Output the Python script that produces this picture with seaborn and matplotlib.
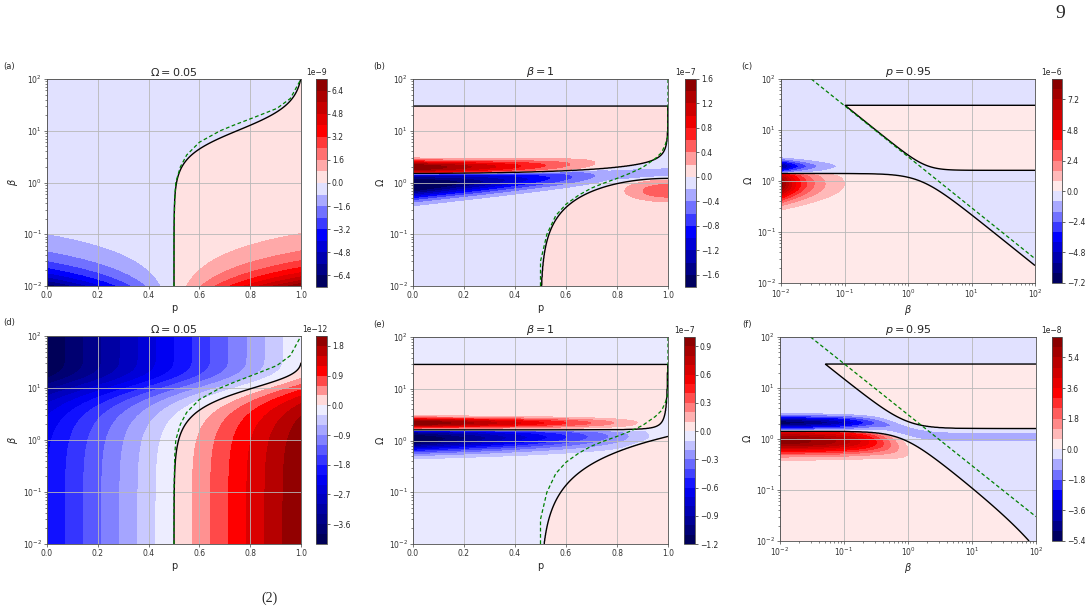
import numpy as np
import matplotlib
matplotlib.use("Agg")
import matplotlib.pyplot as plt
from matplotlib.colors import TwoSlopeNorm
import seaborn as sns

# ---------------------------------------------------------------
# values
# ---------------------------------------------------------------
TITLES = [r"$\Omega = 0.05$", r"$\beta = 1$", r"$p = 0.95$"]
TAGS = ["(a)", "(b)", "(c)", "(d)", "(e)", "(f)"]

# green dashed guide curves
GREEN_PB_P = [0.5, 0.5, 0.503, 0.507, 0.525, 0.55, 0.6, 0.682, 0.735, 0.814, 0.905, 0.958, 0.997, 1.0]
GREEN_PB_BETA = [0.01, 0.1, 0.5, 1.0, 2.0, 3.4, 6.0, 10.0, 12.8, 18.0, 27.0, 42.0, 94.0, 100.0]
GREEN_PO_P = [0.5, 0.5, 0.525, 0.56, 0.6, 0.65, 0.7, 0.75, 0.8, 0.85, 0.9, 0.95, 0.975, 0.99, 1.0, 1.0]
GREEN_PO_OMEGA = [0.01, 0.03, 0.1, 0.23, 0.38, 0.57, 0.78, 0.98, 1.2, 1.5, 1.95, 2.9, 3.8, 5.5, 8.0, 100.0]
GREEN_BO_BETA = [0.03, 100.0]
GREEN_BO_OMEGA = [100.0, 0.03]

# colour levels: lowest, highest, step, colorbar exponent
LEV_A = (-7.2, 7.2, 0.8, 1e-9)
LEV_B = (-1.8, 1.6, 0.2, 1e-7)
LEV_C = (-7.2, 8.8, 0.8, 1e-6)
LEV_D = (-4.2, 2.1, 0.3, 1e-12)
LEV_E = (-1.2, 1.0, 0.1, 1e-7)
LEV_F = (-5.4, 6.6, 0.6, 1e-8)

TICKS_A = [-6.4, -4.8, -3.2, -1.6, 0.0, 1.6, 3.2, 4.8, 6.4]
TICKS_B = [-1.6, -1.2, -0.8, -0.4, 0.0, 0.4, 0.8, 1.2, 1.6]
TICKS_C = [-7.2, -4.8, -2.4, 0.0, 2.4, 4.8, 7.2]
TICKS_D = [-3.6, -2.7, -1.8, -0.9, 0.0, 0.9, 1.8]
TICKS_E = [-1.2, -0.9, -0.6, -0.3, 0.0, 0.3, 0.6, 0.9]
TICKS_F = [-5.4, -3.6, -1.8, 0.0, 1.8, 3.6, 5.4]


# ---------------------------------------------------------------
# model fields (in colorbar units)
# ---------------------------------------------------------------
def sign_field(lw, w_low, w_up, w_top):
    # >0 inside the two "positive" pockets, zero on the black curves
    h = np.maximum(np.minimum(w_top - lw, lw - w_up), w_low - lw)
    return h, np.tanh(h / 0.02)


def field_a(P, LB):
    beta = 10 ** LB
    hill = beta ** 1.67 / (beta ** 1.67 + 10.3 ** 1.67)
    p0 = 0.5 + 0.51 * hill
    return 7.0 * (2 * P - 1) * np.exp(-(LB + 2) / 0.44) + 0.1 * np.tanh((P - p0) / 0.004)


def field_d(P, LB):
    beta = 10 ** LB
    p0 = 0.5 + 0.502 * np.tanh(0.725 * (beta / 10) ** 1.3)
    return 4.2 * (P - p0)


def field_b(P, LW):
    wU = np.log10(1.5 + 0.33 * P ** 2 / np.sqrt(np.clip(1 - P, 1e-9, None)))
    s = np.clip((P - 0.5) / 0.5, 0, 1)
    wL = np.log10(1.2 * np.sin(np.pi * s / 2) ** 1.1 + 1e-12)
    h, S = sign_field(LW, wL, wU, np.log10(30))
    red = (1.65 * np.clip(1 - P / 0.8, 0, None) * np.exp(-((LW - wU - 0.12) / 0.12) ** 2)
           + 0.55 * np.exp(-((P - 1) / 0.16) ** 2 - ((LW + 0.16) / 0.2) ** 2))
    blue = ((1.75 * np.clip(1 - P / 0.77, 0, None) + 0.26)
            * np.exp(-((LW + 0.05 - 0.25 * P) / (0.27 - 0.13 * P)) ** 2))
    return S * (0.02 + np.where(h > 0, red, blue))


def field_e(P, LW):
    wU = np.log10(1.6 + 0.009 * P ** 6 / np.clip(1 - P, 1e-9, None) ** 1.2)
    s = np.clip((P - 0.5) / 0.5, 0, 1)
    wL = np.log10(1.2 * s ** 1.35 + 1e-12)
    h, S = sign_field(LW, wL, wU, np.log10(29.5))
    red = 1.05 * np.clip(1 - P / 0.961, 0, None) * np.exp(-((LW - 0.34) / 0.09) ** 2)
    blue = 1.25 * np.clip(1 - P, 0, None) * np.exp(-((LW - 0.03 - 0.06 * P) / 0.25) ** 2)
    return S * (0.01 + np.where(h > 0, red, blue))


def field_c(LB, LW):
    beta = 10 ** LB
    wU = np.log10((1.62 ** 3 + (3.1 / beta) ** 3) ** (1 / 3))
    wL = np.log10(1 / np.sqrt((1 / 1.4) ** 2 + (beta / 2.2) ** 2))
    h, S = sign_field(LW, wL, wU, np.log10(30.5))
    red = 8.4 * (0.01 / beta) ** 1.07 * np.exp(-((LW + 0.056) / 0.326) ** 2)
    blue = 6.2 * (0.01 / beta) ** 1.07 * np.exp(-((LW - 0.29) / 0.126) ** 2)
    return S * (0.08 + np.where(h > 0, red, blue))


def field_f(LB, LW):
    beta = 10 ** LB
    omU = np.sqrt(1.6 ** 2 + (1.5 / beta) ** 2)
    wU = np.log10(omU)
    wL = np.log10(np.exp(-beta / 200) / np.sqrt((1 / 1.41) ** 2 + (beta / 1.15) ** 2))
    h, S = sign_field(LW, wL, wU, np.log10(29.5))
    omc = (2.1 ** -4 + (omU / 1.45) ** -4) ** -0.25
    red = 6.4 * np.exp(-beta / 0.41) * np.exp(-((LW - wL + 0.19) / 0.24) ** 2)
    blue = (4.4 * np.exp(-beta / 0.186) + 0.9) * np.exp(-((LW - np.log10(omc)) / 0.13) ** 2)
    return S * (0.06 + np.where(h > 0, red, blue))


# ---------------------------------------------------------------
# figure
# ---------------------------------------------------------------
sns.set_style("ticks")
plt.rcParams.update({
    "font.family": ["DejaVu Sans"],
    "axes.axisbelow": "line",
    "axes.linewidth": 0.6,
    "axes.edgecolor": "0.3",
    "xtick.major.size": 2, "ytick.major.size": 2,
    "xtick.minor.size": 1.2, "ytick.minor.size": 1.2,
    "xtick.major.width": 0.5, "ytick.major.width": 0.5,
    "xtick.minor.width": 0.4, "ytick.minor.width": 0.4,
    "xtick.major.pad": 1.5, "ytick.major.pad": 1.5,
})

W, H = 1090, 606
fig = plt.figure(figsize=(W / 100, H / 100), dpi=100)


def rect(x, y, w, h):
    return [x / W, 1 - (y + h) / H, w / W, h / H]


AX_RECTS = [(47, 79, 254, 207), (413, 79, 255, 207), (781, 79, 254, 204),
            (47, 336, 254, 208), (413, 337, 255, 207), (780, 337, 256, 204)]
CB_RECTS = [(316, 79, 11, 208), (685, 79, 11, 208), (1052, 79, 10, 204),
            (316, 336, 11, 208), (684, 337, 11, 207), (1052, 337, 10, 204)]
TAG_POS = [(3, 66), (373, 66), (741, 66), (3, 323), (373, 325), (742, 325)]

N = 600
lin = np.linspace(0.0, 1.0, N)
lg = np.linspace(-2.0, 2.0, N)
P, LG = np.meshgrid(lin, lg)
LX, LY = np.meshgrid(lg, lg)

panels = [
    (field_a(P, LG), P, 10 ** LG, LEV_A, TICKS_A, "p", r"$\beta$", False),
    (field_b(P, LG), P, 10 ** LG, LEV_B, TICKS_B, "p", r"$\Omega$", False),
    (field_c(LX, LY), 10 ** LX, 10 ** LY, LEV_C, TICKS_C, r"$\beta$", r"$\Omega$", True),
    (field_d(P, LG), P, 10 ** LG, LEV_D, TICKS_D, "p", r"$\beta$", False),
    (field_e(P, LG), P, 10 ** LG, LEV_E, TICKS_E, "p", r"$\Omega$", False),
    (field_f(LX, LY), 10 ** LX, 10 ** LY, LEV_F, TICKS_F, r"$\beta$", r"$\Omega$", True),
]

for i, (F, X, Y, lev, ticks, xl, yl, xlog) in enumerate(panels):
    lo, hi, step, scale = lev
    levels = np.round(np.arange(lo, hi + step / 2, step), 6)
    F = np.clip(F, lo + 1e-6, hi - 1e-6)

    ax = fig.add_axes(rect(*AX_RECTS[i]))
    cax = fig.add_axes(rect(*CB_RECTS[i]))
    cs = ax.contourf(X, Y, F * scale, levels=levels * scale, cmap="seismic",
                     norm=TwoSlopeNorm(0.0, lo * scale, hi * scale))
    ax.contour(X, Y, F, levels=[0.0], colors="k", linewidths=1.0)

    if i % 3 == 0:
        ax.plot(GREEN_PB_P, GREEN_PB_BETA, color="green", ls=(0, (3, 2)), lw=0.9)
    elif i % 3 == 1:
        ax.plot(GREEN_PO_P, GREEN_PO_OMEGA, color="green", ls=(0, (3, 2)), lw=0.9)
    else:
        ax.plot(GREEN_BO_BETA, GREEN_BO_OMEGA, color="green", ls=(0, (3, 2)), lw=0.9)

    ax.set_yscale("log")
    if xlog:
        ax.set_xscale("log")
        ax.set_xlim(1e-2, 1e2)
    else:
        ax.set_xlim(0, 1)
    ax.set_ylim(1e-2, 1e2)
    ax.grid(True, which="major", color="0.72", lw=0.6)
    ax.tick_params(labelsize=5.5, colors="0.25", labelcolor="0.2")
    ax.set_xlabel(xl, fontsize=7, labelpad=2)
    ax.set_ylabel(yl, fontsize=7, labelpad=2)
    ax.set_title(TITLES[i % 3], fontsize=8, pad=2)

    cb = fig.colorbar(cs, cax=cax, ticks=np.array(ticks) * scale)
    cb.outline.set_linewidth(0.6)
    cax.tick_params(labelsize=5.5, length=2, width=0.5, pad=1.5)
    cax.yaxis.get_offset_text().set_fontsize(5.5)

    tx, ty = TAG_POS[i]
    fig.text(tx / W, 1 - ty / H, TAGS[i], fontsize=6, ha="left", va="center")

fig.text(1060 / W, 1 - 14 / H, "9", family="Liberation Serif", fontsize=14,
         ha="center", va="center")
fig.text(270 / W, 1 - 605 / H, "(2)", family="Liberation Serif", fontsize=10,
         ha="center", va="bottom")

fig.savefig("out.png", dpi=100)
